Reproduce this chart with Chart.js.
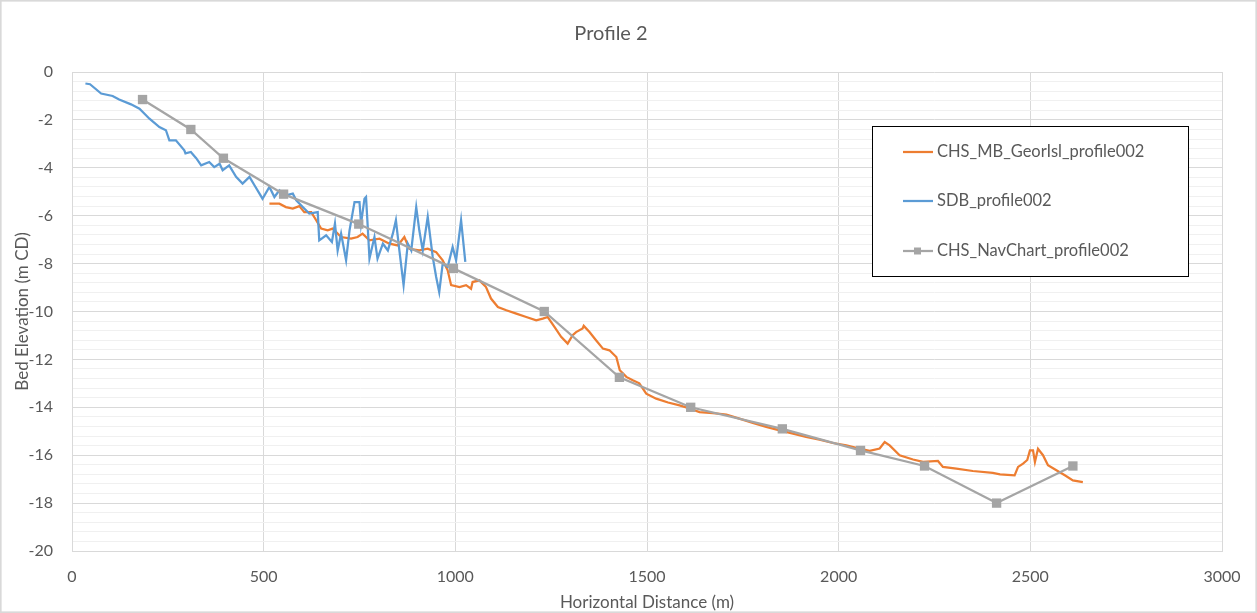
<!DOCTYPE html>
<html>
<head>
<meta charset="utf-8">
<script src="https://cdn.jsdelivr.net/npm/chart.js@4.4.0/dist/chart.umd.min.js"></script>
<style>
  html, body { margin: 0; padding: 0; background: #fff; }
  #wrap { width: 1257px; height: 613px; }
</style>
</head>
<body>
<div id="wrap"><canvas id="profileChart" width="1257" height="613"></canvas></div>
<script>
const seriesNames = ["CHS_MB_GeorIsl_profile002", "SDB_profile002", "CHS_NavChart_profile002"];

// CHS multibeam profile (m along profile, m CD)
const mbDist = [
  515, 541, 558, 576, 593, 606, 624, 637, 650, 667,
  680, 702, 728, 745, 758, 776, 802, 828, 850, 867,
  880, 906, 928, 950, 967, 980, 989, 1011, 1028, 1041,
  1045, 1063, 1080, 1093, 1111, 1133, 1159, 1185, 1211, 1228,
  1241, 1259, 1276, 1293, 1306, 1315, 1332, 1335, 1350, 1367,
  1385, 1402, 1420, 1429, 1446, 1463, 1480, 1498, 1524, 1555,
  1585, 1611, 1637, 1672, 1707, 1741, 1776, 1811, 1846, 1881,
  1915, 1950, 1985, 2020, 2054, 2081, 2107, 2120, 2133, 2159,
  2194, 2220, 2259, 2272, 2307, 2350, 2402, 2421, 2459, 2468,
  2481, 2492, 2499, 2507, 2512, 2520, 2533, 2546, 2568, 2590,
  2611, 2637
];
const mbElev = [
  -5.5, -5.5, -5.64, -5.7, -5.6, -5.85, -5.85, -6.19, -6.54, -6.61,
  -6.54, -6.89, -6.96, -6.89, -6.75, -7.03, -6.96, -7.17, -7.24, -6.89,
  -7.38, -7.45, -7.38, -7.52, -7.86, -8.28, -8.9, -8.98, -8.9, -9.05,
  -8.77, -8.7, -8.98, -9.46, -9.81, -9.95, -10.09, -10.23, -10.37, -10.3,
  -10.23, -10.65, -11.06, -11.34, -10.99, -10.86, -10.71, -10.6, -10.86, -11.2,
  -11.55, -11.62, -11.9, -12.45, -12.73, -12.87, -13.0, -13.43, -13.64, -13.8,
  -13.92, -14.05, -14.2, -14.24, -14.3, -14.47, -14.65, -14.82, -14.96, -15.1,
  -15.24, -15.35, -15.49, -15.59, -15.72, -15.82, -15.72, -15.45, -15.59, -16.0,
  -16.18, -16.28, -16.24, -16.49, -16.56, -16.66, -16.74, -16.8, -16.84, -16.49,
  -16.35, -16.2, -15.8, -15.8, -16.28, -15.73, -16.0, -16.42, -16.63, -16.84,
  -17.05, -17.12
];

// satellite derived bathymetry
const sdbDist = [
  35, 47, 76, 106, 123, 154, 176, 202, 228, 245,
  254, 271, 293, 296, 310, 324, 337, 358, 371, 385,
  393, 410, 428, 445, 463, 476, 497, 515, 528, 541,
  558, 576, 585, 602, 619, 641, 645, 663, 678, 686,
  693, 702, 715, 724, 737, 750, 754, 763, 767, 771,
  776, 789, 797, 811, 824, 837, 845, 854, 865, 876,
  885, 898, 906, 915, 928, 941, 950, 958, 967, 980,
  993, 1002, 1015, 1026
];
const sdbElev = [
  -0.48, -0.51, -0.9, -1.0, -1.15, -1.35, -1.53, -1.95, -2.3, -2.43,
  -2.85, -2.85, -3.27, -3.4, -3.34, -3.6, -3.9, -3.76, -3.97, -3.83,
  -4.1, -3.9, -4.38, -4.66, -4.38, -4.73, -5.29, -4.8, -5.22, -4.94,
  -5.15, -5.08, -5.36, -5.64, -5.91, -5.85, -7.03, -6.82, -7.1, -6.33,
  -7.45, -6.75, -7.86, -6.61, -5.43, -5.43, -6.33, -5.29, -5.22, -6.33,
  -7.79, -6.89, -7.79, -7.17, -7.45, -6.75, -6.19, -7.45, -8.9, -7.17,
  -7.45, -5.64, -6.61, -7.45, -6.05, -7.72, -8.56, -9.19, -8.0, -8.14,
  -7.31, -7.86, -6.19, -7.93
];

// nav chart soundings
const navDist = [184, 310, 395, 552, 748, 995, 1232, 1428, 1614, 1853, 2057, 2224, 2412, 2611];
const navElev = [-1.15, -2.4, -3.6, -5.1, -6.35, -8.2, -10.0, -12.75, -14.0, -14.9, -15.8, -16.45, -18.0, -16.45];

const colors = ["#ED7D31", "#5B9BD5", "#A5A5A5"];
const FONT = "Lato";
const TEXT = "#595959";

function toPoints(xs, ys) {
  return xs.map((x, i) => ({ x: x, y: ys[i] }));
}

// legend box drawn inside the plot, like the Excel one
const boxLegend = {
  id: "boxLegend",
  afterDraw(chart) {
    const ctx = chart.ctx;
    const bx = 872, by = 126, bw = 316, bh = 150;
    const rows = [152, 201, 251];
    ctx.save();
    ctx.fillStyle = "#fff";
    ctx.fillRect(bx, by, bw, bh);
    ctx.strokeStyle = "#000";
    ctx.lineWidth = 1;
    ctx.strokeRect(bx + 0.5, by + 0.5, bw, bh);
    ctx.font = "16.5px " + FONT;
    ctx.textBaseline = "middle";
    chart.data.datasets.forEach((ds, i) => {
      const y = rows[i];
      ctx.strokeStyle = ds.borderColor;
      ctx.lineWidth = 2.25;
      ctx.beginPath();
      ctx.moveTo(903, y);
      ctx.lineTo(933, y);
      ctx.stroke();
      if (ds.pointRadius > 0) {
        ctx.fillStyle = ds.borderColor;
        ctx.fillRect(914, y - 3.5, 7, 7);
      }
      ctx.fillStyle = TEXT;
      ctx.fillText(ds.label, 937, y);
    });
    // outer chart border
    ctx.strokeStyle = "#D9D9D9";
    ctx.strokeRect(0.5, 0.5, chart.width - 1, chart.height - 1);
    ctx.restore();
  }
};

const ctx = document.getElementById("profileChart").getContext("2d");
new Chart(ctx, {
  type: "scatter",
  data: {
    datasets: [
      {
        label: seriesNames[0],
        data: toPoints(mbDist, mbElev),
        borderColor: colors[0],
        backgroundColor: colors[0],
        borderWidth: 2.25,
        pointRadius: 0,
        showLine: true,
        order: 3
      },
      {
        label: seriesNames[1],
        data: toPoints(sdbDist, sdbElev),
        borderColor: colors[1],
        backgroundColor: colors[1],
        borderWidth: 2.25,
        pointRadius: 0,
        showLine: true,
        order: 2
      },
      {
        label: seriesNames[2],
        data: toPoints(navDist, navElev),
        borderColor: colors[2],
        backgroundColor: colors[2],
        borderWidth: 2.25,
        pointStyle: "rect",
        pointRadius: 6.6,
        pointBorderWidth: 0,
        showLine: true,
        order: 1
      }
    ]
  },
  options: {
    responsive: false,
    animation: false,
    layout: { padding: { left: 0, right: 35, top: 0, bottom: 0 } },
    plugins: {
      legend: { display: false },
      tooltip: { enabled: false },
      title: {
        display: true,
        text: "Profile 2",
        color: TEXT,
        font: { size: 20, family: FONT, weight: "normal" },
        padding: { top: 22, bottom: 26 }
      }
    },
    scales: {
      x: {
        type: "linear",
        min: 0,
        max: 3000,
        afterFit(scale) { scale.height = 62; },
        ticks: {
          stepSize: 500,
          color: TEXT,
          padding: 16,
          font: { size: 16, family: FONT },
          callback(value) { return String(value); }
        },
        grid: { color: "#D9D9D9", drawTicks: false },
        border: { color: "#D9D9D9" },
        title: {
          display: true,
          text: "Horizontal Distance (m)",
          color: TEXT,
          font: { size: 17, family: FONT },
          padding: { top: 0, bottom: 0 }
        }
      },
      y: {
        min: -20,
        max: 0,
        afterFit(scale) { scale.width = 72; },
        ticks: {
          stepSize: 0.4,
          autoSkip: false,
          color: TEXT,
          padding: 19,
          font: { size: 16, family: FONT },
          callback(value) {
            const r = value / 2;
            return Math.abs(r - Math.round(r)) < 1e-6 ? Math.round(value) : "";
          }
        },
        grid: {
          drawTicks: false,
          color(c) {
            const r = c.tick.value / 2;
            return Math.abs(r - Math.round(r)) < 1e-6 ? "#D9D9D9" : "#F0F0F0";
          }
        },
        border: { color: "#D9D9D9" },
        title: {
          display: true,
          text: "Bed Elevation (m CD)",
          color: TEXT,
          font: { size: 17, family: FONT },
          padding: { top: 12, bottom: 0 }
        }
      }
    }
  },
  plugins: [boxLegend]
});
</script>
</body>
</html>
